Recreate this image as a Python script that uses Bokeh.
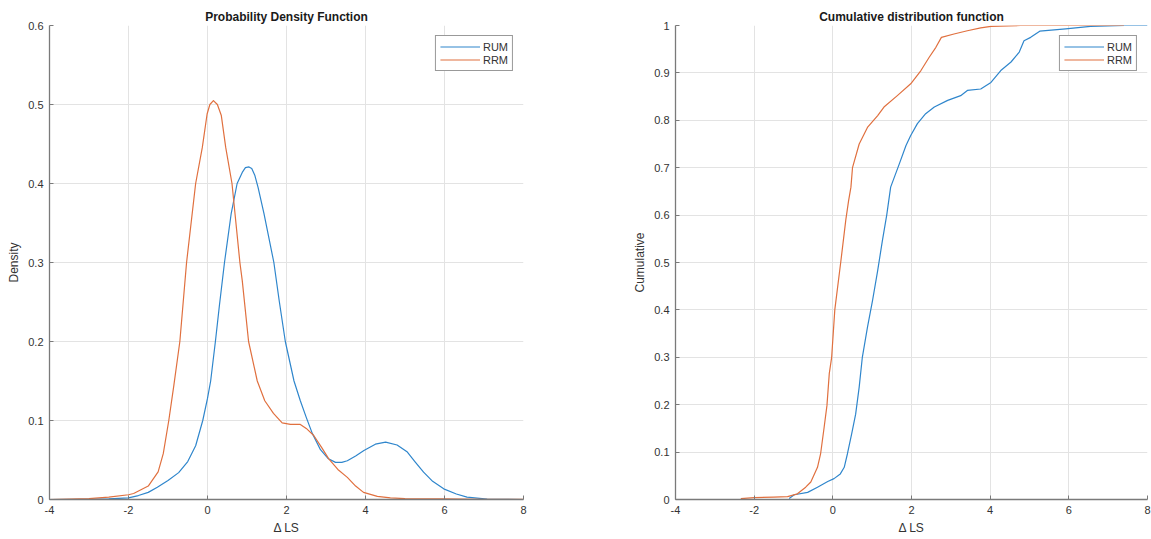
from bokeh.plotting import figure
from bokeh.layouts import row
from bokeh.models import Range1d, FixedTicker, Legend, LegendItem
from bokeh.embed import file_html
from bokeh.resources import INLINE

# ---------------- data ----------------
pdf_x_rum = [-4, -3, -2.5, -2, -1.75, -1.5, -1.27, -1.0, -0.73, -0.5, -0.3, -0.12, 0.0, 0.08, 0.2, 0.3,
             0.43, 0.6, 0.75, 0.88, 0.96, 1.05, 1.12, 1.2, 1.28, 1.43, 1.68, 1.82, 1.97, 2.19, 2.35, 2.5,
             2.65, 2.86, 3.05, 3.24, 3.4, 3.54, 3.75, 3.96, 4.25, 4.51, 4.8, 5.06, 5.25, 5.47, 5.7, 5.98,
             6.3, 6.57, 7.08, 7.5, 8]
pdf_y_rum = [0, 0.0002, 0.0008, 0.002, 0.005, 0.009, 0.0156, 0.024, 0.034, 0.048, 0.068, 0.1, 0.128, 0.15,
             0.2, 0.245, 0.30, 0.362, 0.40, 0.414, 0.42, 0.421, 0.419, 0.41, 0.395, 0.362, 0.30, 0.25,
             0.2, 0.15, 0.125, 0.104, 0.084, 0.063, 0.052, 0.047, 0.047, 0.049, 0.055, 0.062, 0.07,
             0.0726, 0.069, 0.06, 0.048, 0.0346, 0.023, 0.0135, 0.007, 0.003, 0.0005, 0.0001, 0.0]

pdf_x_rrm = [-4, -3.5, -3, -2.5, -2, -1.87, -1.5, -1.25, -1.12, -0.98, -0.85, -0.70, -0.53, -0.30, -0.13,
             -0.01, 0.06, 0.15, 0.25, 0.35, 0.46, 0.62, 0.82, 0.88, 1.04, 1.26, 1.45, 1.67, 1.89, 2.1,
             2.35, 2.5, 2.69, 2.9, 3.07, 3.3, 3.54, 3.75, 3.95, 4.3, 4.63, 5.0, 6.0, 7.0, 8.0]
pdf_y_rrm = [0.0, 0.0005, 0.001, 0.003, 0.006, 0.0076, 0.017, 0.035, 0.058, 0.1, 0.145, 0.2, 0.30, 0.40,
             0.446, 0.488, 0.500, 0.505, 0.500, 0.486, 0.446, 0.40, 0.30, 0.277, 0.2, 0.15, 0.125,
             0.109, 0.097, 0.095, 0.095, 0.09, 0.081, 0.065, 0.0515, 0.038, 0.028, 0.017, 0.009,
             0.004, 0.002, 0.001, 0.0007, 0.0003, 0.0002]

cdf_x_rum = [-1.11, -0.98, -0.64, -0.39, -0.13, 0.03, 0.19, 0.29, 0.37, 0.48, 0.58, 0.67, 0.75, 0.88,
             1.01, 1.14, 1.26, 1.37, 1.47, 1.69, 1.86, 1.98, 2.15, 2.36, 2.58, 2.92, 3.25, 3.42, 3.76,
             4.02, 4.27, 4.53, 4.74, 4.86, 5.03, 5.26, 5.92, 6.55, 7.42, 8.0]
cdf_y_rum = [0.002, 0.01, 0.015, 0.026, 0.038, 0.044, 0.054, 0.068, 0.096, 0.139, 0.18, 0.237, 0.30,
             0.363, 0.42, 0.483, 0.546, 0.60, 0.659, 0.708, 0.747, 0.768, 0.793, 0.814, 0.828, 0.842,
             0.852, 0.863, 0.866, 0.88, 0.905, 0.923, 0.944, 0.968, 0.975, 0.988, 0.993, 0.998, 1.0, 1.0]

cdf_x_rrm = [-2.34, -2.0, -1.5, -1.15, -0.9, -0.69, -0.56, -0.39, -0.31, -0.22, -0.15, -0.09, -0.03,
             0.05, 0.2, 0.33, 0.4, 0.46, 0.5, 0.67, 0.88, 1.14, 1.3, 1.64, 1.98, 2.24, 2.45, 2.62,
             2.76, 3.08, 3.42, 3.76, 4.02, 4.77, 5.5, 7.4]
cdf_y_rrm = [0.002, 0.004, 0.005, 0.006, 0.012, 0.026, 0.037, 0.068, 0.097, 0.153, 0.198, 0.266, 0.30,
             0.40, 0.50, 0.59, 0.63, 0.659, 0.70, 0.75, 0.785, 0.81, 0.828, 0.852, 0.877, 0.905, 0.933,
             0.954, 0.975, 0.982, 0.989, 0.995, 0.998, 1.0, 1.0, 1.0]

x_ticks = [-4, -2, 0, 2, 4, 6, 8]
x_tick_labels = ["-4", "-2", "0", "2", "4", "6", "8"]
pdf_y_ticks = [0, 0.1, 0.2, 0.3, 0.4, 0.5, 0.6]
pdf_y_tick_labels = ["0", "0.1", "0.2", "0.3", "0.4", "0.5", "0.6"]
cdf_y_ticks = [0, 0.1, 0.2, 0.3, 0.4, 0.5, 0.6, 0.7, 0.8, 0.9, 1.0]
cdf_y_tick_labels = ["0", "0.1", "0.2", "0.3", "0.4", "0.5", "0.6", "0.7", "0.8", "0.9", "1"]
series_names = ["RUM", "RRM"]

BLUE = "#2f86cc"
ORANGE = "#e0703f"
FONT = "Liberation Sans"
AXIS_COL = "#7a7a7a"
TEXT_COL = "#333333"


def style(p, yticks, ylabels, title, ylabel):
    p.title.text = title
    p.title.text_font = FONT
    p.title.text_font_size = "12px"
    p.title.text_font_style = "bold"
    p.title.text_color = "#1a1a1a"
    p.title.align = "center"
    p.title.standoff = 4
    p.outline_line_color = None
    p.background_fill_color = "white"
    p.border_fill_color = "white"
    for ax in (p.xaxis[0], p.yaxis[0]):
        ax.axis_line_color = AXIS_COL
        ax.axis_line_width = 1.3
        ax.major_tick_line_color = AXIS_COL
        ax.major_tick_in = 4
        ax.major_tick_out = 0
        ax.minor_tick_line_color = None
        ax.major_label_text_font = FONT
        ax.major_label_text_font_size = "11px"
        ax.major_label_text_color = TEXT_COL
        ax.major_label_standoff = 6
        ax.axis_label_text_font = FONT
        ax.axis_label_text_font_size = "12px"
        ax.axis_label_text_font_style = "normal"
        ax.axis_label_text_color = TEXT_COL
        ax.axis_label_standoff = 4
    p.xaxis[0].ticker = FixedTicker(ticks=x_ticks)
    p.xaxis[0].major_label_overrides = {t: l for t, l in zip(x_ticks, x_tick_labels)}
    p.yaxis[0].ticker = FixedTicker(ticks=yticks)
    p.yaxis[0].major_label_overrides = {t: l for t, l in zip(yticks, ylabels)}
    p.xaxis[0].axis_label = "\u0394 LS"
    p.yaxis[0].axis_label = ylabel
    p.xgrid.ticker = FixedTicker(ticks=x_ticks)
    p.ygrid.ticker = FixedTicker(ticks=yticks)
    for g in (p.xgrid[0], p.ygrid[0]):
        g.grid_line_color = "#e3e3e3"
        g.grid_line_width = 1


def add_legend(p, r1, r2):
    leg = Legend(items=[LegendItem(label=series_names[0], renderers=[r1]),
                        LegendItem(label=series_names[1], renderers=[r2])],
                 location="top_right")
    leg.margin = 10
    leg.padding = 4
    leg.spacing = 0
    leg.glyph_width = 40
    leg.glyph_height = 13
    leg.label_height = 13
    leg.label_standoff = 3
    leg.label_text_font = FONT
    leg.label_text_font_size = "11px"
    leg.label_text_color = TEXT_COL
    leg.border_line_color = "#333333"
    leg.border_line_width = 1
    leg.background_fill_color = "white"
    leg.background_fill_alpha = 1
    p.add_layout(leg)


# ---------------- left: PDF ----------------
p1 = figure(width=600, height=539, output_backend="svg", toolbar_location=None,
            x_range=Range1d(-4, 8), y_range=Range1d(0, 0.6),
            min_border_left=49, min_border_right=77, min_border_top=25, min_border_bottom=40)
style(p1, pdf_y_ticks, pdf_y_tick_labels, "Probability Density Function", "Density")
r1 = p1.line(pdf_x_rum, pdf_y_rum, line_color=BLUE, line_width=1.2, line_join="round")
r2 = p1.line(pdf_x_rrm, pdf_y_rrm, line_color=ORANGE, line_width=1.2, line_join="round")
add_legend(p1, r1, r2)

# ---------------- right: CDF ----------------
p2 = figure(width=551, height=539, output_backend="svg", toolbar_location=None,
            x_range=Range1d(-4, 8), y_range=Range1d(0, 1),
            min_border_left=75, min_border_right=4, min_border_top=25, min_border_bottom=40)
style(p2, cdf_y_ticks, cdf_y_tick_labels, "Cumulative distribution function", "Cumulative")
r3 = p2.line(cdf_x_rum, cdf_y_rum, line_color=BLUE, line_width=1.2, line_join="round")
r4 = p2.line(cdf_x_rrm, cdf_y_rrm, line_color=ORANGE, line_width=1.2, line_join="round")
add_legend(p2, r3, r4)

layout = row(p1, p2)
open("out.html", "w").write(file_html(layout, INLINE))
